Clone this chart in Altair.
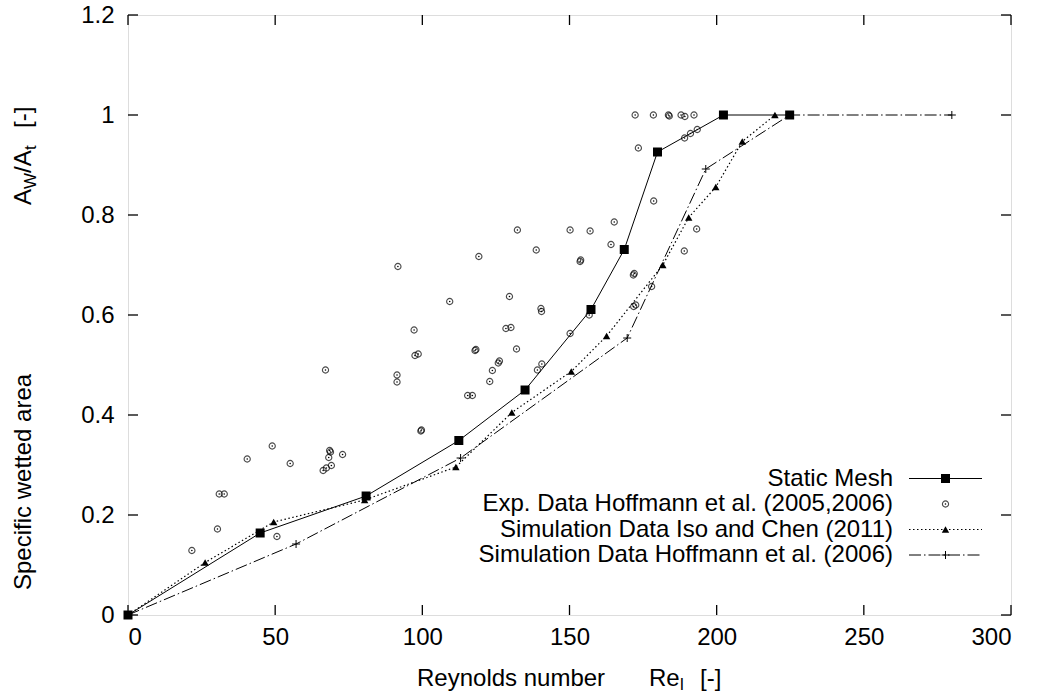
import altair as alt
import pandas as pd

# ---------------- data ----------------
static_x = [0, 44.9, 80.9, 112.4, 134.9, 157.3, 168.6, 179.9, 202.3, 224.8]
static_y = [0, 0.164, 0.238, 0.349, 0.450, 0.611, 0.731, 0.926, 1.0, 1.0]

iso_x = [0, 26.2, 49.5, 80.4, 111.4, 130.4, 150.6, 162.6, 181.7, 190.5, 199.7, 208.7, 219.8]
iso_y = [0, 0.105, 0.186, 0.230, 0.296, 0.405, 0.487, 0.558, 0.700, 0.795, 0.856, 0.947, 1.0]

hoff_x = [0, 57.1, 113.0, 169.6, 196.3, 224.8, 279.9]
hoff_y = [0, 0.142, 0.314, 0.554, 0.892, 1.0, 1.0]

exp_x = [21.7, 30.4, 31.0, 32.7, 40.5, 49.0, 50.6, 55.1, 66.3, 67.4, 69.1, 68.2, 68.5, 68.8,
         72.9, 67.1, 91.4, 91.4, 91.7, 97.2, 97.5, 98.6, 99.5, 99.7, 109.3, 115.4, 117.0,
         117.9, 118.2, 119.2, 122.9, 123.8, 125.8, 126.2, 128.4, 130.1, 129.6, 132.0, 132.3,
         138.7, 139.1, 140.6, 140.3, 140.5, 150.2, 150.2, 153.6, 153.8, 156.7, 157.0, 164.1,
         165.2, 171.7, 172.0, 171.8, 172.5, 177.9, 178.6, 189.0, 193.2, 173.4, 189.1, 191.1,
         193.4, 172.3, 178.5, 183.6, 183.9, 187.9, 189.2, 192.3]
exp_y = [0.129, 0.172, 0.242, 0.242, 0.312, 0.338, 0.157, 0.303, 0.289, 0.294, 0.299, 0.315,
         0.329, 0.326, 0.321, 0.490, 0.480, 0.466, 0.697, 0.570, 0.519, 0.522, 0.368, 0.370,
         0.627, 0.439, 0.439, 0.529, 0.531, 0.717, 0.467, 0.489, 0.504, 0.508, 0.573, 0.575,
         0.637, 0.532, 0.770, 0.730, 0.490, 0.502, 0.613, 0.607, 0.563, 0.770, 0.707, 0.710,
         0.600, 0.768, 0.741, 0.786, 0.680, 0.683, 0.617, 0.620, 0.657, 0.828, 0.728, 0.772,
         0.934, 0.954, 0.963, 0.971, 1.0, 1.0, 1.0, 0.998, 1.0, 0.997, 1.0]

x_ticks = [0, 50, 100, 150, 200, 250, 300]
y_ticks = [0, 0.2, 0.4, 0.6, 0.8, 1.0, 1.2]

legend_labels = ["Static Mesh", "Exp. Data Hoffmann et al. (2005,2006)",
                 "Simulation Data Iso and Chen (2011)", "Simulation Data Hoffmann et al. (2006)"]

# ---------------- layout ----------------
W, H = 883, 600
FONT = "Liberation Sans"
FS = 24

xs = alt.Scale(domain=[0, 300], nice=False, zero=False)
ys = alt.Scale(domain=[0, 1.2], nice=False, zero=False)

static_df = pd.DataFrame({"x": static_x, "y": static_y})
iso_df = pd.DataFrame({"x": iso_x, "y": iso_y})
hoff_df = pd.DataFrame({"x": hoff_x, "y": hoff_y})
exp_df = pd.DataFrame({"x": exp_x, "y": exp_y})
xt_df = pd.DataFrame({"x": x_ticks})
yt_df = pd.DataFrame({"y": y_ticks})
one = pd.DataFrame({"k": [0]})

X_AXIS = alt.Axis(values=x_ticks, format="d", ticks=False, domain=False, grid=False,
                  labelFontSize=FS, labelFont=FONT, labelColor="black", labelPadding=10)
Y_AXIS = alt.Axis(values=y_ticks, format="~g", ticks=False, domain=False, grid=False,
                  labelFontSize=FS, labelFont=FONT, labelColor="black", labelPadding=14)
XA = alt.X("x:Q", scale=xs, title=None, axis=X_AXIS)
YA = alt.Y("y:Q", scale=ys, title=None, axis=Y_AXIS)

layers = []

# experimental circles (with centre dots)
layers.append(alt.Chart(exp_df).mark_point(shape="circle", filled=False, size=38,
                                           color="black", strokeWidth=1.15).encode(x=XA, y=YA))
layers.append(alt.Chart(exp_df).mark_point(shape="circle", filled=True, size=2.5,
                                           color="black", opacity=1).encode(x=XA, y=YA))

# static mesh
layers.append(alt.Chart(static_df).mark_line(color="black", strokeWidth=1).encode(x=XA, y=YA))
layers.append(alt.Chart(static_df).mark_point(shape="square", filled=True, size=81,
                                              color="black", opacity=1).encode(x=XA, y=YA))

# Iso and Chen
layers.append(alt.Chart(iso_df).mark_line(color="black", strokeWidth=1.2,
                                          strokeDash=[1.5, 2.5]).encode(x=XA, y=YA))
layers.append(alt.Chart(iso_df).mark_point(shape="triangle-up", filled=True, size=55,
                                           color="black", opacity=1).encode(x=XA, y=YA))

# Hoffmann 2006
CROSS = "M-1,0L1,0M0,-1L0,1"
layers.append(alt.Chart(hoff_df).mark_line(color="black", strokeWidth=1,
                                           strokeDash=[12, 3, 1.5, 3]).encode(x=XA, y=YA))
layers.append(alt.Chart(hoff_df).mark_point(shape=CROSS, filled=False, size=64,
                                            color="black", strokeWidth=1, opacity=1).encode(x=XA, y=YA))

# inward ticks on all four sides
TL = 10
layers.append(alt.Chart(xt_df).mark_rule(color="black", strokeWidth=1.3).encode(
    x=XA, y=alt.value(H), y2=alt.value(H - TL)))
layers.append(alt.Chart(xt_df).mark_rule(color="black", strokeWidth=1.3).encode(
    x=XA, y=alt.value(0), y2=alt.value(TL)))
layers.append(alt.Chart(yt_df).mark_rule(color="black", strokeWidth=1.3).encode(
    y=YA, x=alt.value(0), x2=alt.value(TL)))
layers.append(alt.Chart(yt_df).mark_rule(color="black", strokeWidth=1.3).encode(
    y=YA, x=alt.value(W), x2=alt.value(W - TL)))

# legend
LX_TEXT = 765
LX1, LX2, LXM = 781, 854, 817.5
ROWS = [463.5, 489, 514.5, 540]
for lab, ry in zip(legend_labels, ROWS):
    layers.append(alt.Chart(one).mark_text(align="right", baseline="middle", font=FONT,
                                           fontSize=FS, color="black", text=lab).encode(
        x=alt.value(LX_TEXT), y=alt.value(ry)))

layers.append(alt.Chart(one).mark_rule(color="black", strokeWidth=1).encode(
    x=alt.value(LX1), x2=alt.value(LX2), y=alt.value(ROWS[0])))
layers.append(alt.Chart(one).mark_point(shape="square", filled=True, size=81, color="black",
                                        opacity=1).encode(x=alt.value(LXM), y=alt.value(ROWS[0])))
layers.append(alt.Chart(one).mark_point(shape="circle", filled=False, size=38, color="black",
                                        strokeWidth=1.15).encode(x=alt.value(LXM), y=alt.value(ROWS[1])))
layers.append(alt.Chart(one).mark_point(shape="circle", filled=True, size=2.5, color="black",
                                        opacity=1).encode(x=alt.value(LXM), y=alt.value(ROWS[1])))
layers.append(alt.Chart(one).mark_rule(color="black", strokeWidth=1.2, strokeDash=[1.5, 2.5]).encode(
    x=alt.value(LX1), x2=alt.value(LX2), y=alt.value(ROWS[2])))
layers.append(alt.Chart(one).mark_point(shape="triangle-up", filled=True, size=55, color="black",
                                        opacity=1).encode(x=alt.value(LXM), y=alt.value(ROWS[2])))
layers.append(alt.Chart(one).mark_rule(color="black", strokeWidth=1, strokeDash=[12, 3, 1.5, 3]).encode(
    x=alt.value(LX1), x2=alt.value(LX2), y=alt.value(ROWS[3])))
layers.append(alt.Chart(one).mark_point(shape=CROSS, filled=False, size=64, color="black",
                                        strokeWidth=1, opacity=1).encode(x=alt.value(LXM), y=alt.value(ROWS[3])))

# axis titles with subscripts
def txt(s, x, y, size=FS, angle=0):
    kw = dict(align="left", baseline="alphabetic", font=FONT, fontSize=size, color="black", text=s)
    if angle:
        kw["angle"] = angle
    return alt.Chart(one).mark_text(**kw).encode(x=alt.value(x), y=alt.value(y))

XB = 671
layers += [
    txt("Reynolds number", 289, XB),
    txt("Re", 521, XB),
    txt("l", 552, XB + 4, 17),
    txt("[-]", 572, XB),
]

YB = -97
layers += [
    txt("Specific wetted area", YB, 575, angle=270),
    txt("A", YB, 190, angle=270),
    txt("W", YB + 5, 174, 17, angle=270),
    txt("/A", YB, 158, angle=270),
    txt("t", YB + 5, 135, 17, angle=270),
    txt("[-]", YB, 113, angle=270),
]

chart = alt.layer(*layers).properties(
    width=W, height=H,
    autosize=alt.AutoSizeParams(type="none"),
    padding={"left": 128, "top": 15, "right": 29, "bottom": 79},
).configure_view(stroke="black", strokeWidth=1.5).configure(background="white")

chart.save("out.html", embed_options={"renderer": "svg", "actions": False})
